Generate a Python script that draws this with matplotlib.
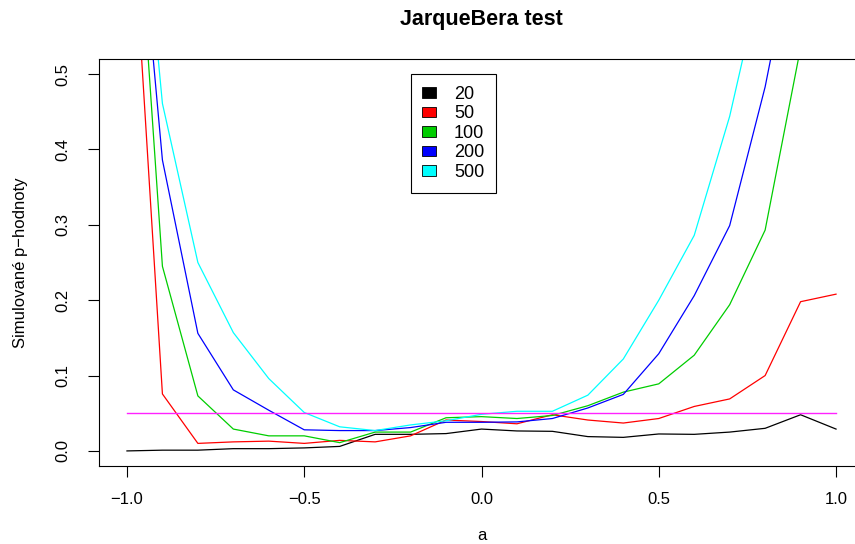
import numpy as np
import matplotlib
matplotlib.use("Agg")
import matplotlib.pyplot as plt
from matplotlib.patches import Patch

plt.rcParams['font.family'] = ['Liberation Sans', 'DejaVu Sans']

# hodnoty parametru a
a_vals = [-1.0, -0.9, -0.8, -0.7, -0.6, -0.5, -0.4, -0.3, -0.2, -0.1, 0.0,
          0.1, 0.2, 0.3, 0.4, 0.5, 0.6, 0.7, 0.8, 0.9, 1.0]

# simulovane p-hodnoty pro jednotlive rozsahy vyberu
p_20 = [0.000, 0.001, 0.001, 0.003, 0.003, 0.004, 0.006, 0.022, 0.022, 0.023, 0.029,
        0.0265, 0.026, 0.019, 0.018, 0.0225, 0.022, 0.025, 0.030, 0.048, 0.029]
p_50 = [0.834, 0.0756, 0.010, 0.012, 0.013, 0.010, 0.014, 0.012, 0.020, 0.041, 0.039,
        0.036, 0.048, 0.041, 0.037, 0.043, 0.059, 0.069, 0.100, 0.198, 0.208]
p_100 = [0.933, 0.245, 0.073, 0.029, 0.020, 0.020, 0.011, 0.025, 0.025, 0.044, 0.0455,
         0.043, 0.047, 0.060, 0.078, 0.089, 0.127, 0.194, 0.293, 0.535, 0.85]
p_200 = [0.903, 0.386, 0.156, 0.081, 0.054, 0.028, 0.027, 0.027, 0.031, 0.038, 0.038,
         0.0385, 0.043, 0.057, 0.075, 0.129, 0.206, 0.299, 0.483, 0.72, 0.90]
p_500 = [0.96, 0.461, 0.250, 0.157, 0.096, 0.051, 0.032, 0.027, 0.0345, 0.040, 0.0486,
         0.0526, 0.0526, 0.074, 0.122, 0.200, 0.286, 0.444, 0.65, 0.85, 0.95]

labels = ['20', '50', '100', '200', '500']
colors = ['black', '#FF0000', '#00CD00', '#0000FF', '#00FFFF']
alpha_level = 0.05

W, H = 855, 544
fig = plt.figure(figsize=(W / 100, H / 100), dpi=100)

# oblast grafu (v pixelech: vlevo 98.6, vpravo 864.4, nahore 59, dole 466)
ax = fig.add_axes([98.6 / W, (H - 466) / H, (864.4 - 98.6) / W, (466 - 59) / H])

for vals, col in zip([p_20, p_50, p_100, p_200, p_500], colors):
    ax.plot(a_vals, vals, color=col, lw=0.9)

ax.plot(a_vals, [alpha_level] * len(a_vals), color='#FF22FF', lw=1.0)

ax.set_xlim(-1.08, 1.08)
ax.set_ylim(-0.02, 0.52)

ax.set_xticks([-1.0, -0.5, 0.0, 0.5, 1.0])
ax.set_xticklabels(['\u22121.0', '\u22120.5', '0.0', '0.5', '1.0'])
ax.set_yticks([0.0, 0.1, 0.2, 0.3, 0.4, 0.5])
ax.set_yticklabels(['0.0', '0.1', '0.2', '0.3', '0.4', '0.5'], rotation=90, va='center')

ax.tick_params(axis='both', direction='out', length=8, width=0.8, labelsize=12,
               color='black')
ax.tick_params(axis='x', pad=11)
ax.tick_params(axis='y', pad=12)

for sp in ax.spines.values():
    sp.set_color('black')
    sp.set_linewidth(0.8)

handles = [Patch(facecolor=c, edgecolor='black', linewidth=0.6) for c in colors]
leg = ax.legend(handles, labels, loc='upper left', bbox_to_anchor=(-0.2, 0.5),
                bbox_transform=ax.transData, borderaxespad=0, fontsize=13,
                handlelength=0.78, handleheight=0.5, handletextpad=0.98,
                labelspacing=0.14, borderpad=0.65, fancybox=False, framealpha=1,
                edgecolor='black')
leg.get_frame().set_linewidth(0.8)

fig.text(481.5 / W, 1 - 20 / H, 'JarqueBera test', ha='center', va='center',
         fontsize=15.5, fontweight='bold')
fig.text(481.5 / W, 1 - 535 / H, 'a', ha='center', va='center', fontsize=12)
fig.text(21 / W, 1 - 262.5 / H, 'Simulované p\u2212hodnoty', ha='center', va='center',
         rotation=90, fontsize=12)

fig.savefig('out.png', dpi=100)
